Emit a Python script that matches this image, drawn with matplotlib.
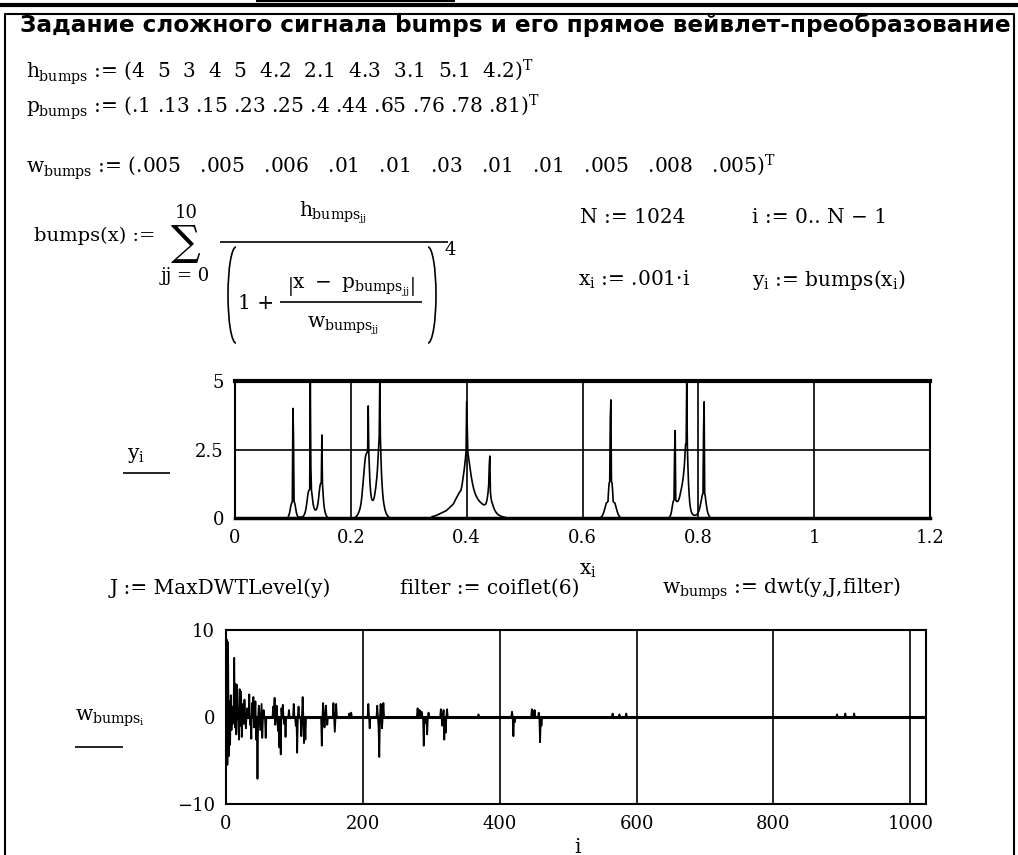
import matplotlib
matplotlib.use("Agg")
import matplotlib.pyplot as plt
from matplotlib.patches import Arc
import numpy as np

W, H = 1018, 855
N = 1024

# parameters printed in the worksheet
h_text = ["4", "5", "3", "4", "5", "4.2", "2.1", "4.3", "3.1", "5.1", "4.2"]
p_text = [".1", ".13", ".15", ".23", ".25", ".4", ".44", ".65", ".76", ".78", ".81"]
w_text = [".005", ".005", ".006", ".01", ".01", ".03", ".01", ".01", ".005", ".008", ".005"]

# y_i, cluster by cluster (other samples sit at 0)
bump_start = [92, 208, 340, 632, 750]
bump_vals = [
    [0.05, 0.1, 0.17, 0.27, 0.4, 0.5, 0.55, 0.6, 4.0, 3.0, 0.6, 0.55, 0.45, 0.32, 0.2,
     0.12, 0.07, 0.04, 0.03, 0.03, 0.03, 0.03, 0.03, 0.03, 0.04, 0.05, 0.07, 0.1, 0.14,
     0.2, 0.28, 0.4, 0.55, 0.72, 0.88, 0.98, 1.02, 1.05, 5.05, 1.87, 1.02, 0.85, 0.65,
     0.5, 0.4, 0.34, 0.3, 0.29, 0.3, 0.33, 0.4, 0.5, 0.65, 0.85, 1.05, 1.2, 1.26, 1.3,
     3.03, 1.26, 0.9, 0.6, 0.4, 0.27, 0.18, 0.12, 0.07, 0.04, 0.02],
    [0.03, 0.05, 0.07, 0.1, 0.13, 0.17, 0.22, 0.28, 0.36, 0.46, 0.6, 0.78, 1.0, 1.25,
     1.5, 1.75, 2.0, 2.2, 2.3, 2.35, 2.4, 2.4, 4.09, 2.4, 1.8, 1.3, 1.0, 0.8, 0.7, 0.65,
     0.64, 0.66, 0.72, 0.82, 0.95, 1.1, 1.3, 1.5, 1.8, 2.2, 2.6, 2.97, 5.05, 2.97, 2.2,
     1.6, 1.2, 0.9, 0.68, 0.52, 0.4, 0.3, 0.23, 0.17, 0.13, 0.1, 0.07, 0.05, 0.03],
    [0.05, 0.055, 0.06, 0.065, 0.07, 0.075, 0.08, 0.09, 0.1, 0.11, 0.12, 0.13, 0.14,
     0.15, 0.16, 0.17, 0.18, 0.19, 0.2, 0.21, 0.22, 0.23, 0.24, 0.25, 0.26, 0.27,
     0.29, 0.31, 0.33, 0.35, 0.37, 0.39, 0.41, 0.43, 0.45, 0.47, 0.49, 0.52, 0.55,
     0.6, 0.64, 0.68, 0.72, 0.76, 0.8, 0.84, 0.88, 0.92, 0.95, 0.98, 1.0,
     1.1, 1.2, 1.35, 1.5, 1.65, 1.8, 2.0, 2.2, 2.45, 4.25, 3.4,
     2.4, 2.25, 2.1, 1.95, 1.8, 1.65, 1.5, 1.38, 1.27, 1.17, 1.08, 1.0, 0.93, 0.87,
     0.82, 0.78, 0.74, 0.7, 0.67, 0.64, 0.61, 0.59, 0.57, 0.55, 0.53, 0.51, 0.5, 0.49,
     0.48, 0.48, 0.49, 0.52, 0.57, 0.65, 0.78, 0.95, 1.2, 1.9, 2.26,
     0.95, 0.75, 0.62, 0.55, 0.48, 0.42, 0.36, 0.31, 0.27, 0.23, 0.2, 0.17, 0.15, 0.13,
     0.11, 0.1, 0.09, 0.08, 0.07, 0.06, 0.05, 0.045, 0.04, 0.035, 0.03, 0.025, 0.02, 0.015],
    [0.03, 0.05, 0.08, 0.12, 0.17, 0.23, 0.3, 0.38, 0.46, 0.54, 0.56, 0.58, 0.6, 1.0,
     1.28, 1.32, 3.64, 4.31, 1.32, 1.28, 1.0, 0.6, 0.58, 0.56, 0.54, 0.46, 0.38, 0.3,
     0.23, 0.17, 0.12, 0.08, 0.05, 0.03],
    [0.03, 0.06, 0.1, 0.17, 0.28, 0.42, 0.55, 0.62, 0.66, 2.38, 3.19, 0.66, 0.62, 0.6,
     0.6, 0.62, 0.66, 0.72, 0.8, 0.9, 1.0, 1.1, 1.2, 1.35, 1.5, 1.7, 1.95, 2.3, 2.69,
     2.69, 5.15, 2.69, 1.9, 1.3, 0.9, 0.6, 0.42, 0.3, 0.22, 0.17, 0.14, 0.12, 0.11, 0.1,
     0.1, 0.1, 0.11, 0.12, 0.14, 0.17, 0.21, 0.26, 0.33, 0.42, 0.53, 0.65, 0.77, 0.85,
     0.89, 3.15, 4.24, 0.89, 0.8, 0.6, 0.45, 0.32, 0.22, 0.15, 0.1, 0.06, 0.03],
]

# dwt coefficients (all others ~0)
coef_idx = [1, 2, 3, 4, 5, 6, 7, 8, 9, 10, 12, 13, 14, 15, 16, 17, 19, 20, 21, 22, 23,
            25, 26, 27, 29, 31, 34, 35, 37, 38, 40, 41, 43, 44, 46, 48, 50, 52, 53, 55,
            58, 69, 71, 72, 74, 76, 78, 80, 81, 83, 85, 87, 92, 99, 102, 104, 106, 110,
            112, 114, 116, 140, 142, 144, 146, 148, 157, 159, 161, 180, 183, 208, 210,
            221, 223, 224, 226, 228, 230, 280, 283, 286, 289, 291, 294, 296, 314, 316,
            318, 319, 321, 323, 369, 418, 420, 422, 447, 449, 451, 457, 459, 461, 565,
            575, 585, 893, 905, 918]
coef_val = [8.9, -5.5, 8.6, -4.5, 1.8, -3.2, 2.5, -1.5, 1.2, -0.8, 6.8, -1.2, 3.8, -2.0,
            3.7, 0.8, -2.6, 3.2, -1.0, 2.9, -2.3, 1.5, -0.8, 2.0, -1.3, 1.0, 2.6, -0.9,
            -2.5, 1.6, 2.3, -1.2, 1.8, -2.6, -7.1, 1.3, -1.5, 1.5, -2.4, 0.8, -2.4, 1.2,
            2.2, -0.9, 1.3, -1.6, -3.5, -4.3, 1.0, 1.4, -0.8, -2.3, 0.8, 1.5, -1.0, -4.1,
            1.2, -2.2, 2.3, -3.0, -2.6, -3.3, 1.6, -1.2, 1.3, -0.9, 1.6, -1.7, 1.5, 0.4,
            0.5, 1.5, -1.3, 1.3, -1.2, -4.6, 1.5, -1.3, 1.6, 1.0, 0.8, 0.6, -3.3, -0.7,
            -2.0, 0.5, 0.9, -1.0, 0.8, -2.6, -1.8, 0.9, 0.3, 0.6, -2.2, -0.6, 0.9, 0.7,
            0.8, 0.5, -2.9, -1.0, 0.4, 0.3, 0.4, 0.3, 0.4, 0.4]

x1_ticks = [0, 0.2, 0.4, 0.6, 0.8, 1.0, 1.2]
x1_labels = ["0", "0.2", "0.4", "0.6", "0.8", "1", "1.2"]
y1_ticks = [0, 2.5, 5]
y1_labels = ["0", "2.5", "5"]
x2_ticks = [0, 200, 400, 600, 800, 1000]
x2_labels = ["0", "200", "400", "600", "800", "1000"]
y2_ticks = [-10, 0, 10]
y2_labels = ["\u221210", "0", "10"]

plt.rcParams["font.family"] = ["DejaVu Serif"]
plt.rcParams["mathtext.fontset"] = "custom"
plt.rcParams["mathtext.rm"] = "DejaVu Serif"
plt.rcParams["mathtext.it"] = "DejaVu Serif"
plt.rcParams["mathtext.bf"] = "DejaVu Serif:bold"

FS = 14.5

fig = plt.figure(figsize=(W / 100, H / 100), dpi=100)
bg = fig.add_axes([0, 0, 1, 1])
bg.set_xlim(0, W)
bg.set_ylim(H, 0)
bg.axis("off")
rend = fig.canvas.get_renderer()


def put(x, y, s, size=FS, width=None, ha="left", va="baseline", **kw):
    t = bg.text(x, y, s, fontsize=size, ha=ha, va=va, **kw)
    if width:
        w = t.get_window_extent(rend).width
        t.set_fontsize(size * width / w)
    return t


def rule(x0, x1, y, lw=1.2):
    bg.plot([x0, x1], [y, y], color="k", lw=lw, solid_capstyle="butt")


# page decorations
rule(0, W, 5, lw=3)
rule(256, 455, 1, lw=1.5)
bg.plot([5, 5, 1014, 1014], [H, 14, 14, H], color="k", lw=1.5)

put(20, 32, "Задание сложного сигнала bumps и его прямое вейвлет-преобразование",
    15, width=988, family=["DejaVu Sans"], weight="bold")

put(26, 78, "$h_{bumps}$ := (" + "  ".join(h_text) + ")$^{T}$")
put(26, 113, "$p_{bumps}$ := (" + " ".join(p_text) + ")$^{T}$")
put(26, 173, "$w_{bumps}$ := (" + "   ".join(w_text) + ")$^{T}$")

# bumps(x) definition, laid out piece by piece like the worksheet
put(34, 241, "bumps(x) :=", 14)
put(186, 243, "\u2211", 30, ha="center", va="center")
put(186, 213, "10", 13, ha="center", va="center")
put(185, 276, "jj = 0", 13, ha="center", va="center")
put(333, 216, "$h_{bumps_{jj}}$", ha="center")
rule(220, 448, 242)
bg.add_patch(Arc((236, 295), 16, 96, theta1=90, theta2=270, color="k", lw=1.2))
put(238, 303, "1 +", va="center")
put(351, 289, r"$\left|x\ -\ p_{bumps_{jj}}\right|$", ha="center")
rule(280, 422, 302)
put(343, 327, "$w_{bumps_{jj}}$", ha="center")
bg.add_patch(Arc((428, 295), 16, 96, theta1=-90, theta2=90, color="k", lw=1.2))
put(445, 250, "4", 13, va="center")

put(580, 223, "N := 1024")
put(752, 223, "i := 0.. N \u2212 1")
put(578, 286, "$x_i$ := .001\u00b7i")
put(752, 286, "$y_i$ := bumps($x_i$)")

put(110, 594, "J := MaxDWTLevel(y)")
put(400, 594, "filter := coiflet(6)")
put(662, 594, "$w_{bumps}$ := dwt(y,J,filter)")

# axis labels (Mathcad style, with the short rule underneath)
put(127, 455, "$y_i$", va="center")
rule(123, 170, 473)
put(588, 570, "$x_i$", ha="center", va="center")
put(75, 718, "$w_{bumps_i}$", va="center")
rule(75, 123, 747)
put(578, 847, "i", ha="center", va="center")

# upper plot: y_i against x_i
y = np.zeros(N)
for s, v in zip(bump_start, bump_vals):
    y[s:s + len(v)] = v
x = 0.001 * np.arange(N)

ax1 = fig.add_axes([235 / W, 1 - 518 / H, 695 / W, 137 / H])
ax1.plot(x, y, color="k", lw=1.2)
ax1.set_xlim(0, 1.2)
ax1.set_ylim(0, 5)
ax1.set_xticks(x1_ticks, x1_labels)
ax1.set_yticks(y1_ticks, y1_labels)
ax1.grid(True, color="k", lw=1.2)

# lower plot: wavelet coefficients
coef = np.zeros(N)
coef[coef_idx] = coef_val

ax2 = fig.add_axes([226 / W, 1 - 804 / H, 700 / W, 174 / H])
ax2.plot(np.arange(N), coef, color="k", lw=1.3)
ax2.axhline(0, color="k", lw=2.2)
ax2.set_xlim(0, N - 1)
ax2.set_ylim(-10, 10)
ax2.set_xticks(x2_ticks, x2_labels)
ax2.set_yticks(y2_ticks, y2_labels)
ax2.grid(True, color="k", lw=1.2)

for ax in (ax1, ax2):
    ax.set_axisbelow(True)
    ax.tick_params(length=0, labelsize=13, pad=8)
    for sp in ax.spines.values():
        sp.set_linewidth(1.5)
ax1.spines["top"].set_linewidth(3)
ax1.spines["bottom"].set_linewidth(2.5)

fig.savefig("out.png", dpi=100)
